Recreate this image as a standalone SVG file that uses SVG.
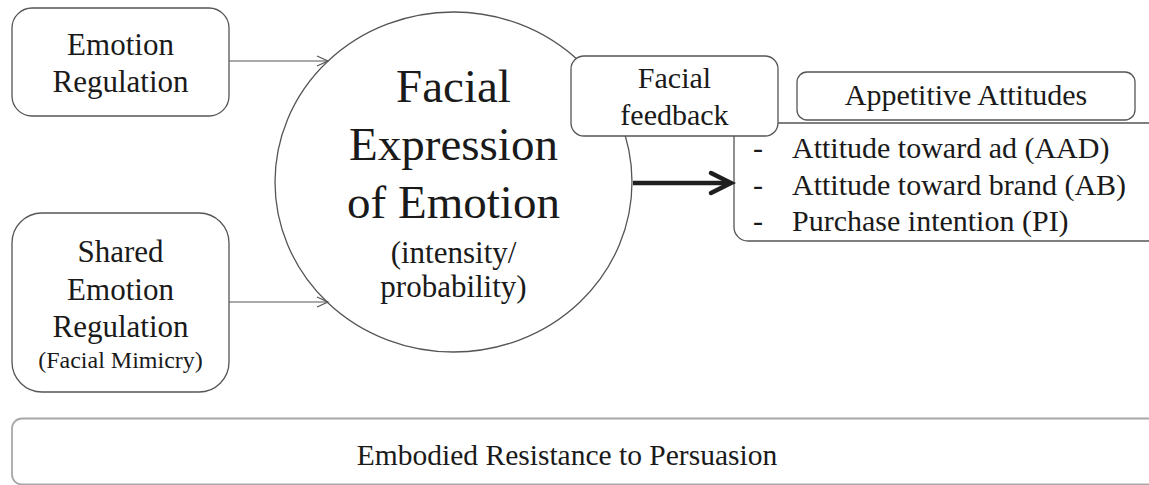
<svg xmlns="http://www.w3.org/2000/svg" width="1149" height="485" viewBox="0 0 1149 485">
  <style>
    .box { fill: #ffffff; stroke: #555555; stroke-width: 1.3; }
    .t { fill: #1a1a1a; text-anchor: middle; font-family: "Liberation Serif", "Times New Roman", serif; }
    .tl { fill: #1a1a1a; font-family: "Liberation Serif", "Times New Roman", serif; }
    .thin { stroke: #555555; stroke-width: 1.2; fill: none; }
    .thick { stroke: #1e1e1e; stroke-width: 4.5; fill: none; }
  </style>
  <defs>
    <marker id="open" markerWidth="14" markerHeight="12" refX="12" refY="6" orient="auto" markerUnits="userSpaceOnUse">
      <path d="M1,1 L12,6 L1,11" fill="none" stroke="#555555" stroke-width="1.2"/>
    </marker>
  </defs>
  <rect width="1149" height="485" fill="#ffffff"/>

  <!-- bottom banner -->
  <g id="embodied-resistance">
    <rect x="12" y="418.5" width="1160" height="66" rx="10" fill="#ffffff" stroke="#a8a8a8" stroke-width="1.8"/>
    <text class="t" x="567" y="465" font-size="29.5">Embodied Resistance to Persuasion</text>
  </g>

  <g id="emotion-regulation">
    <rect class="box" x="12" y="8" width="217" height="108" rx="20"/>
    <text class="t" x="120.5" y="55" font-size="31">Emotion</text>
    <text class="t" x="120.5" y="92" font-size="31">Regulation</text>
  </g>

  <g id="shared-emotion-regulation">
    <rect class="box" x="12" y="213" width="217" height="179" rx="30"/>
    <text class="t" x="120.5" y="262" font-size="31">Shared</text>
    <text class="t" x="120.5" y="300" font-size="31">Emotion</text>
    <text class="t" x="120.5" y="337" font-size="31">Regulation</text>
    <text class="t" x="120.5" y="368" font-size="24">(Facial Mimicry)</text>
  </g>

  <g id="facial-expression">
    <ellipse class="box" cx="453.5" cy="182" rx="178.5" ry="170"/>
    <text class="t" x="453.5" y="102" font-size="47">Facial</text>
    <text class="t" x="453.5" y="160" font-size="47">Expression</text>
    <text class="t" x="453.5" y="218" font-size="47">of Emotion</text>
    <text class="t" x="453.5" y="263" font-size="31">(intensity/</text>
    <text class="t" x="453.5" y="297" font-size="31">probability)</text>
  </g>

  <g id="attitude-list">
    <rect class="box" x="734" y="123" width="440" height="118" rx="14"/>
    <text class="tl" x="753" y="158" font-size="30">-</text>
    <text class="tl" x="792" y="158" font-size="30">Attitude toward ad (AAD)</text>
    <text class="tl" x="753" y="195" font-size="30">-</text>
    <text class="tl" x="792" y="195" font-size="30">Attitude toward brand (AB)</text>
    <text class="tl" x="753" y="231" font-size="30">-</text>
    <text class="tl" x="792" y="231" font-size="30">Purchase intention (PI)</text>
  </g>

  <g id="appetitive-attitudes">
    <rect class="box" x="797" y="72" width="338" height="48" rx="10"/>
    <text class="t" x="966" y="105" font-size="30">Appetitive Attitudes</text>
  </g>

  <g id="facial-feedback">
    <rect class="box" x="571" y="56" width="207" height="80" rx="13"/>
    <text class="t" x="674.5" y="88" font-size="30">Facial</text>
    <text class="t" x="674.5" y="125" font-size="30">feedback</text>
  </g>

  <g id="connectors">
    <line class="thin" x1="229" y1="61" x2="328" y2="61" marker-end="url(#open)"/>
    <line class="thin" x1="229" y1="302" x2="328" y2="302" marker-end="url(#open)"/>
    <line class="thick" x1="633" y1="183" x2="730" y2="183"/>
    <path class="thick" d="M711,173 L731,183 L711,193" stroke-linejoin="miter" stroke-linecap="round"/>
  </g>
</svg>
